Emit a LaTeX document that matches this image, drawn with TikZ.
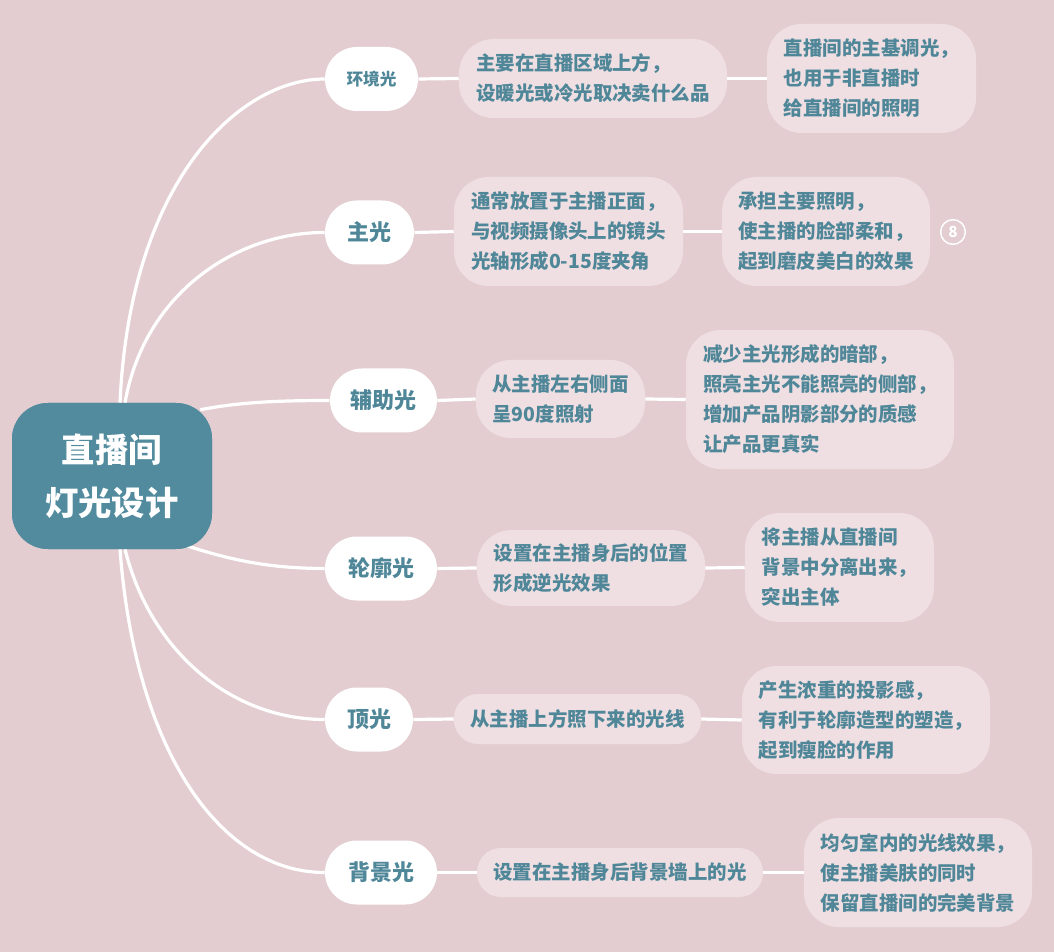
\documentclass[tikz,border=0pt]{standalone}
\usepackage{fontspec}
\setmainfont{Noto Sans CJK SC}
\usetikzlibrary{calc}
\definecolor{bg}{HTML}{E3CDD1}
\definecolor{teal}{HTML}{528B9E}
\definecolor{boxc}{HTML}{EFDFE2}
\definecolor{txt}{HTML}{4F8799}
\begin{document}
\begin{tikzpicture}[x=0.75pt,y=-0.75pt,
  root/.style={fill=teal,text=white,rounded corners=27pt,minimum width=150pt,minimum height=109.5pt,align=center,inner sep=0pt,font=\bfseries\fontsize{25pt}{40pt}\selectfont},
  lvone/.style={fill=white,text=txt,rounded corners=24pt,minimum height=48pt,inner sep=0pt,font=\bfseries\fontsize{16.5pt}{20pt}\selectfont},
  lvtwo/.style={fill=boxc,text=txt,rounded corners=26pt,align=left,inner sep=0pt,font=\bfseries\fontsize{14.6pt}{22.5pt}\selectfont},
  link/.style={draw=white,line width=2.4pt}]
\fill[bg] (0,0) rectangle (1054,952);
\useasboundingbox (0,0) rectangle (1054,952);

% root
\node[root] (c) at (112,476) {直播间\\灯光设计};

% level 1
\node[lvone,minimum width=69.75pt,font=\bfseries\fontsize{12.5pt}{15pt}\selectfont] (n1) at (371.5,79) {环境光};
\node[lvone,minimum width=66.75pt] (n2) at (369.5,232.5) {主光};
\node[lvone,minimum width=80.25pt] (n3) at (383.5,400.5) {辅助光};
\node[lvone,minimum width=84pt] (n4) at (381,568.5) {轮廓光};
\node[lvone,minimum width=66pt] (n5) at (369,719.5) {顶光};
\node[lvone,minimum width=84pt] (n6) at (381,872.5) {背景光};

% level 2 and 3
\node[lvtwo,minimum width=201pt,minimum height=59.25pt] (a1) at (593,78.5) {主要在直播区域上方，\\设暖光或冷光取决卖什么品};
\node[lvtwo,minimum width=156.75pt,minimum height=81.75pt] (a2) at (871.5,78.5) {直播间的主基调光，\\也用于非直播时\\给直播间的照明};
\node[lvtwo,minimum width=171.75pt,minimum height=81.75pt] (b1) at (568.5,231.5) {通常放置于主播正面，\\与视频摄像头上的镜头\\光轴形成0-15度夹角};
\node[lvtwo,minimum width=156pt,minimum height=81.75pt] (b2) at (826,231.5) {承担主要照明，\\使主播的脸部柔和，\\起到磨皮美白的效果};
\node[lvtwo,minimum width=126.75pt,minimum height=58.5pt] (c1) at (560.5,399) {从主播左右侧面\\呈90度照射};
\node[lvtwo,minimum width=201pt,minimum height=104.25pt] (c2) at (820,399.5) {减少主光形成的暗部，\\照亮主光不能照亮的侧部，\\增加产品阴影部分的质感\\让产品更真实};
\node[lvtwo,minimum width=171pt,minimum height=57pt] (d1) at (591,568) {设置在主播身后的位置\\形成逆光效果};
\node[lvtwo,minimum width=141.75pt,minimum height=81.75pt] (d2) at (839.5,567.5) {将主播从直播间\\背景中分离出来，\\突出主体};
\node[lvtwo,minimum width=185.25pt,minimum height=37.5pt,rounded corners=18pt] (e1) at (577.5,719) {从主播上方照下来的光线};
\node[lvtwo,minimum width=186pt,minimum height=81pt] (e2) at (866,720) {产生浓重的投影感，\\有利于轮廓造型的塑造，\\起到瘦脸的作用};
\node[lvtwo,minimum width=214.5pt,minimum height=36.75pt,rounded corners=18pt] (f1) at (620,872.5) {设置在主播身后背景墙上的光};
\node[lvtwo,minimum width=171pt,minimum height=81.75pt] (f2) at (918,872.5) {均匀室内的光线效果，\\使主播美肤的同时\\保留直播间的完美背景};

% marker
\node[circle,draw=white,line width=1.1pt,text=white,minimum size=18.5pt,inner sep=0pt,font=\bfseries\fontsize{11.5pt}{11.5pt}\selectfont] (m) at (953,232) {8};

% curved connectors
\draw[link] ($(c.north)+(8,0)$) .. controls (130,180) and (240,79) .. (n1.west);
\draw[link] ($(c.north)+(13,0)$) .. controls (145,290) and (240,232) .. (n2.west);
\draw[link] ($(c.north east)+(-12,7)$) .. controls (240,402) and (280,400.5) .. (n3.west);
\draw[link] ($(c.south east)+(-27,-4)$) .. controls (230,560) and (270,568.5) .. (n4.west);
\draw[link] ($(c.south)+(13,0)$) .. controls (150,650) and (230,719.5) .. (n5.west);
\draw[link] ($(c.south)+(8,0)$) .. controls (135,750) and (220,872.5) .. (n6.west);

% straight connectors
\draw[link] (n1.east) -- (a1.west);
\draw[link] (a1.east) -- (a2.west);
\draw[link] (n2.east) -- (b1.west);
\draw[link] (b1.east) -- (b2.west);
\draw[link] (n3.east) -- (c1.west);
\draw[link] (c1.east) -- (c2.west);
\draw[link] (n4.east) -- (d1.west);
\draw[link] (d1.east) -- (d2.west);
\draw[link] (n5.east) -- (e1.west);
\draw[link] (e1.east) -- (e2.west);
\draw[link] (n6.east) -- (f1.west);
\draw[link] (f1.east) -- (f2.west);

% root drawn again over the curve ends
\node[root] at (c) {直播间\\灯光设计};
\end{tikzpicture}
\end{document}
